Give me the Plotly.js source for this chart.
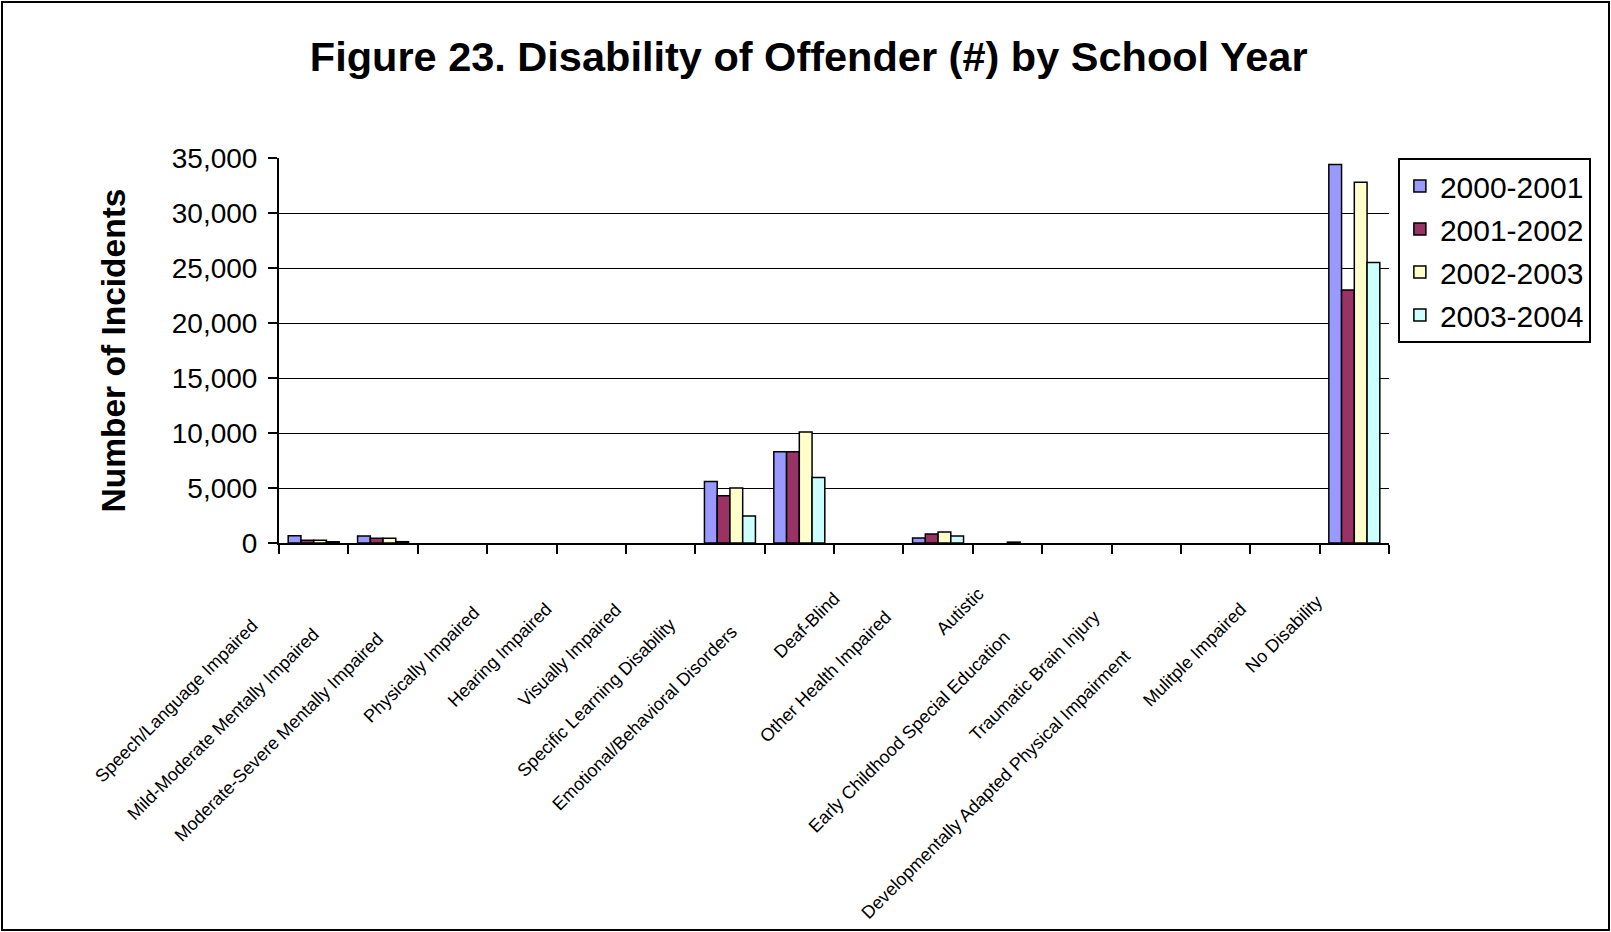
<!DOCTYPE html>
<html>
<head>
<meta charset="utf-8">
<script src="https://cdn.plot.ly/plotly-3.0.1.min.js"></script>
<style>
  html, body { margin: 0; padding: 0; background: #fff; }
  #wrap { position: relative; width: 1611px; height: 932px; }
  #chart { width: 1611px; height: 932px; }
  #frame { position: absolute; left: 1px; top: 1px; width: 1605px; height: 926px;
           border: 2px solid #000; pointer-events: none; }
</style>
</head>
<body>
<div id="wrap"><div id="chart"></div><div id="frame"></div></div>
<script>
// ---- data ----
const categories = [
  "Speech/Language Impaired",
  "Mild-Moderate Mentally Impaired",
  "Moderate-Severe Mentally Impaired",
  "Physically Impaired",
  "Hearing Impaired",
  "Visually Impaired",
  "Specific Learning Disability",
  "Emotional/Behavioral Disorders",
  "Deaf-Blind",
  "Other Health Impaired",
  "Autistic",
  "Early Childhood Special Education",
  "Traumatic Brain Injury",
  "Developmentally Adapted Physical Impairment",
  "Mulitple Impaired",
  "No Disability"
];
const seriesNames = ["2000-2001", "2001-2002", "2002-2003", "2003-2004"];
const y2000_2001 = [650, 640, 0, 0, 0, 0, 5600, 8300, 0, 450, 0, 0, 0, 0, 0, 34400];
const y2001_2002 = [250, 430, 0, 0, 0, 0, 4300, 8300, 0, 820, 0, 0, 0, 0, 0, 23000];
const y2002_2003 = [260, 430, 0, 0, 0, 0, 5000, 10100, 0, 1000, 80, 0, 0, 0, 0, 32800];
const y2003_2004 = [110, 120, 0, 0, 0, 0, 2450, 5950, 0, 640, 0, 0, 0, 0, 0, 25500];
const yTitle = "Number of Incidents";
const chartTitle = "Figure 23. Disability of Offender (#) by School Year";

// ---- styles ----
const colors = ["#9999FF", "#993366", "#FFFFCC", "#CCFFFF"];
const FONT = "Liberation Sans, Arial, sans-serif";
const LABEL_FONT = "Liberation Sans, Arial, sans-serif";
const LABEL_SIZE = 18;

const allSeries = [y2000_2001, y2001_2002, y2002_2003, y2003_2004];
const traces = allSeries.map((vals, i) => ({
  type: "bar",
  name: seriesNames[i],
  legendgroup: seriesNames[i],
  x: categories,
  y: vals,
  marker: {
    color: colors[i],
    line: { color: "#000", width: vals.map(v => (v > 0 ? 1.5 : 0)) }
  },
  hoverinfo: "x+y+name"
}));

// Excel-like placement of rotated category labels: measure each label
const cv = document.createElement("canvas").getContext("2d");
cv.font = LABEL_SIZE + "px " + LABEL_FONT;
const labelAnnotations = categories.map((c) => {
  const L = cv.measureText(c).width;
  const t = 5 + 0.2 * L;
  return {
    x: c, y: 0, xref: "x", yref: "y",
    text: c, textangle: -45, showarrow: false,
    xanchor: "right", yanchor: "top",
    xshift: -t, yshift: -(21 + t),
    font: { family: LABEL_FONT, size: LABEL_SIZE, color: "#000" }
  };
});

const layout = {
  width: 1611, height: 932, autosize: false,
  paper_bgcolor: "#fff", plot_bgcolor: "#fff",
  margin: { l: 279, r: 222, t: 158, b: 389, pad: 0 },
  font: { family: FONT, color: "#000" },
  title: {
    text: chartTitle,
    font: { family: FONT, size: 41.5, weight: "bold", color: "#000" },
    x: 0.502, xref: "container", xanchor: "center",
    y: 1 - 56 / 932, yref: "container", yanchor: "middle"
  },
  barmode: "group",
  bargap: 0.265,
  bargroupgap: 0,
  showlegend: true,
  legend: {
    x: 1.008, y: 1.0, xanchor: "left", yanchor: "top",
    traceorder: "grouped", tracegroupgap: 1,
    bgcolor: "#fff", bordercolor: "#000", borderwidth: 2,
    font: { family: FONT, size: 30, color: "#000" }
  },
  xaxis: {
    type: "category",
    range: [-0.5, categories.length - 0.5],
    tickson: "boundaries",
    ticks: "outside", ticklen: 9, tickwidth: 2, tickcolor: "#000",
    showticklabels: false,
    showline: true, linewidth: 2, linecolor: "#000",
    showgrid: false, zeroline: false, fixedrange: true
  },
  yaxis: {
    range: [0, 35000], dtick: 5000, tick0: 0,
    tickformat: ",d",
    ticks: "outside", ticklen: 9, tickwidth: 2, tickcolor: "#000",
    ticklabelstandoff: 5,
    tickfont: { family: FONT, size: 28, color: "#000" },
    showline: true, linewidth: 2, linecolor: "#000",
    showgrid: true, gridcolor: "#000", gridwidth: 1,
    zeroline: false, fixedrange: true,
    title: {
      text: yTitle, standoff: 36,
      font: { family: FONT, size: 33.5, weight: "bold", color: "#000" }
    }
  },
  annotations: labelAnnotations
};

Plotly.newPlot("chart", traces, layout, { displayModeBar: false });
</script>
</body>
</html>
